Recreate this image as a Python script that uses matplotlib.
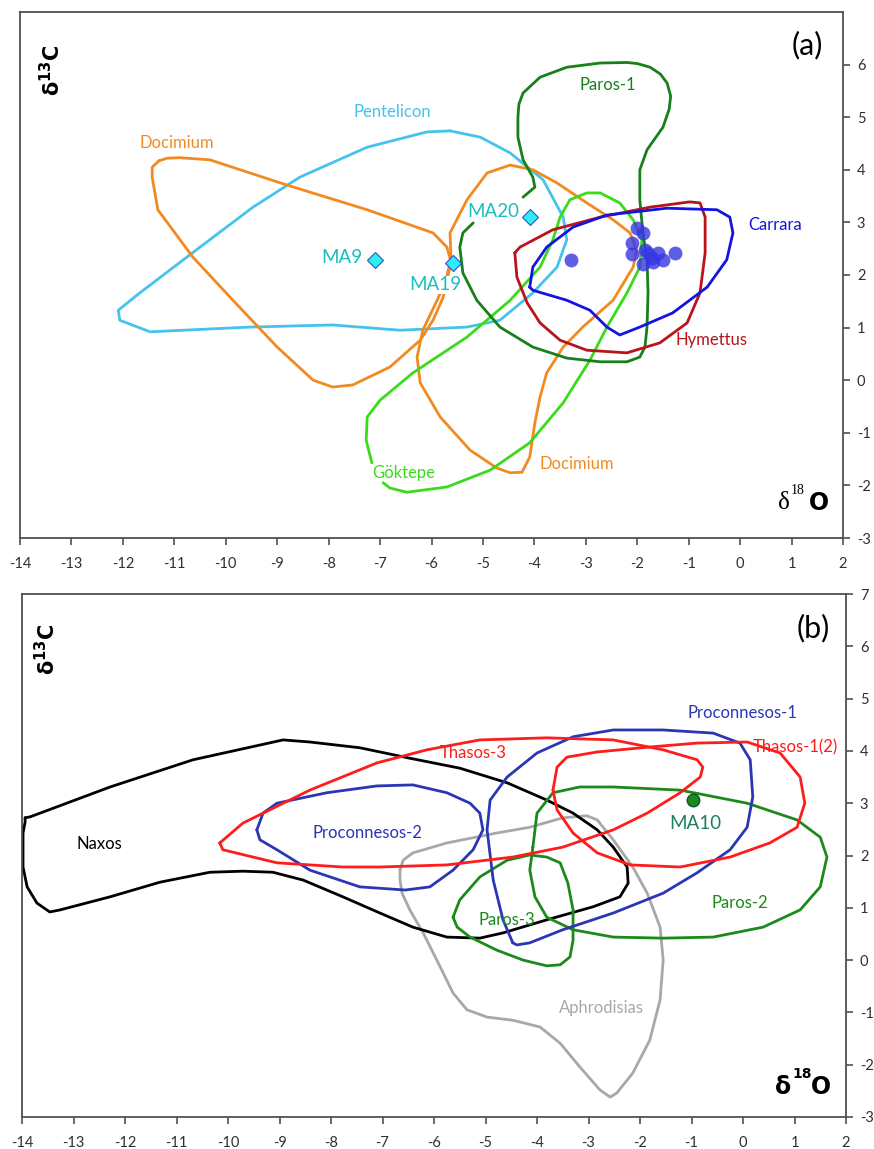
import matplotlib
matplotlib.use("Agg")
import matplotlib.pyplot as plt

plt.rcParams['font.family'] = ['Lato', 'DejaVu Sans']

# ---------------- panel (a) ----------------
pentelicon_x = [-5.64, -5.05, -4.47, -3.83, -3.44, -3.37, -3.56, -4.03, -4.67, -5.31, -6.61, -7.92, -9.53,
                -11.47, -12.06, -12.09, -11.67, -10.50, -9.47, -8.56, -7.25, -6.09]
pentelicon_y = [4.74, 4.62, 4.32, 3.81, 3.10, 2.67, 2.15, 1.66, 1.14, 1.01, 0.95, 1.05, 1.01,
                0.92, 1.14, 1.33, 1.66, 2.53, 3.29, 3.86, 4.43, 4.72]

docimium1_x = [-11.30, -11.14, -10.90, -10.31, -8.81, -7.25, -5.97, -5.70, -5.62, -5.70, -5.78, -5.97, -6.22,
               -6.81, -7.53, -7.92, -8.30, -9.00, -9.86, -10.64, -11.32, -11.43, -11.43]
docimium1_y = [4.17, 4.22, 4.23, 4.19, 3.71, 3.24, 2.80, 2.53, 2.25, 1.90, 1.56, 1.14, 0.76,
               0.25, -0.09, -0.13, 0.00, 0.63, 1.52, 2.34, 3.24, 3.86, 4.05]

docimium2_x = [-5.62, -5.64, -5.31, -4.92, -4.47, -4.03, -3.56, -2.98, -2.47, -2.14, -2.01, -2.08,
               -2.47, -3.06, -3.44, -3.76, -3.89, -3.99, -4.09, -4.24, -4.47, -4.73, -5.25, -5.83,
               -6.22, -6.28, -6.17, -5.89, -5.72]
docimium2_y = [2.32, 2.80, 3.43, 3.94, 4.09, 4.00, 3.75, 3.37, 3.05, 2.80, 2.48, 2.15,
               1.52, 1.01, 0.63, 0.14, -0.32, -0.81, -1.46, -1.75, -1.76, -1.67, -1.33, -0.70,
               -0.05, 0.44, 0.95, 1.52, 1.90]

paros1_x = [-5.19, -5.39, -5.45, -5.39, -5.12, -4.67, -4.03, -3.37, -2.72, -2.20, -1.95, -1.85,
            -1.81, -1.79, -1.81, -1.89, -1.95, -1.95, -1.81, -1.50, -1.38, -1.35, -1.42, -1.55,
            -1.75, -2.00, -2.20, -2.72, -3.37, -3.89, -4.22, -4.30, -4.32, -4.32, -4.22, -4.03,
            -3.99, -4.22]
paros1_y = [2.99, 2.80, 2.53, 2.04, 1.52, 1.01, 0.63, 0.42, 0.35, 0.35, 0.44, 0.63,
            1.01, 1.66, 2.29, 2.80, 3.43, 4.00, 4.38, 4.81, 5.15, 5.40, 5.65, 5.82,
            5.95, 6.02, 6.04, 6.03, 5.95, 5.76, 5.46, 5.25, 5.00, 4.62, 4.19, 3.86,
            3.67, 3.48]

carrara_x = [-4.09, -4.03, -3.76, -3.25, -2.59, -1.42, -0.45, -0.20, -0.14, -0.26, -0.64, -1.31,
             -1.95, -2.34, -2.59, -2.92, -3.37, -4.03]
carrara_y = [1.77, 2.15, 2.53, 2.91, 3.14, 3.27, 3.24, 3.10, 2.80, 2.29, 1.77, 1.28,
             1.01, 0.86, 1.01, 1.33, 1.52, 1.71]

hymettus_x = [-4.38, -4.28, -3.64, -2.72, -1.75, -0.98, -0.78, -0.68, -0.68, -0.78, -1.03, -1.56,
              -2.20, -2.98, -3.50, -3.89, -4.14, -4.34]
hymettus_y = [2.42, 2.53, 2.86, 3.10, 3.29, 3.39, 3.37, 3.10, 2.42, 1.66, 1.09, 0.71,
              0.52, 0.57, 0.76, 1.09, 1.47, 1.96]

goktepe_x = [-7.16, -7.27, -7.25, -7.00, -6.36, -5.31, -4.47, -3.89, -3.64, -3.50, -3.31, -2.98,
             -2.72, -2.34, -2.08, -1.91, -1.95, -2.20, -2.59, -2.92, -3.44, -4.09, -4.86, -5.70,
             -6.48, -6.81, -6.94]
goktepe_y = [-1.57, -1.14, -0.70, -0.38, 0.14, 0.82, 1.52, 2.15, 2.67, 3.10, 3.43, 3.56,
             3.56, 3.37, 3.05, 2.67, 2.15, 1.66, 1.01, 0.38, -0.43, -1.19, -1.71, -2.03,
             -2.13, -2.05, -1.95]

carrara_samples_x = [-3.29, -2.01, -1.89, -2.10, -2.10, -1.89, -1.79, -1.71, -1.60, -1.50, -1.27, -1.69, -1.85]
carrara_samples_y = [2.29, 2.89, 2.80, 2.61, 2.40, 2.21, 2.42, 2.32, 2.42, 2.29, 2.42, 2.25, 2.48]

ma_names = ['MA9', 'MA19', 'MA20']
ma_x = [-7.10, -5.58, -4.09]
ma_y = [2.29, 2.23, 3.10]

# ---------------- panel (b) ----------------
naxos_x = [-13.94, -13.84, -12.29, -10.68, -8.93, -8.41, -7.44, -6.47, -5.50, -4.58, -3.81, -3.30,
           -2.83, -2.52, -2.25, -2.23, -2.39, -2.91, -3.81, -4.66, -5.11, -5.75, -6.41, -7.05,
           -7.77, -8.54, -9.13, -9.71, -10.35, -11.32, -12.29, -13.26, -13.46, -13.71, -13.90,
           -13.98, -13.98, -13.94]
naxos_y = [2.72, 2.74, 3.31, 3.83, 4.21, 4.17, 4.06, 3.86, 3.67, 3.39, 3.06, 2.81,
           2.49, 2.16, 1.78, 1.47, 1.21, 1.02, 0.77, 0.52, 0.42, 0.44, 0.63, 0.90,
           1.21, 1.53, 1.68, 1.70, 1.68, 1.49, 1.21, 0.96, 0.92, 1.09, 1.40,
           1.78, 2.43, 2.64]

thasos3_x = [-10.16, -9.71, -8.41, -7.11, -6.14, -5.11, -3.81, -2.52, -1.55, -0.89, -0.78, -0.83,
             -1.22, -1.86, -2.52, -3.50, -4.47, -5.75, -7.05, -7.77, -9.05, -10.10]
thasos3_y = [2.24, 2.62, 3.25, 3.77, 4.02, 4.21, 4.25, 4.21, 4.02, 3.83, 3.69, 3.50,
             3.20, 2.81, 2.49, 2.16, 1.97, 1.82, 1.78, 1.78, 1.86, 2.11]

thasos1_x = [-3.69, -3.61, -3.42, -2.83, -1.86, -0.89, 0.08, 0.72, 1.11, 1.20, 1.05, 0.52,
             -0.25, -1.22, -2.19, -2.83, -3.30, -3.61]
thasos1_y = [3.25, 3.69, 3.88, 3.98, 4.07, 4.15, 4.17, 3.96, 3.50, 3.00, 2.54, 2.24,
             1.97, 1.78, 1.82, 2.05, 2.43, 2.87]

procon1_x = [-4.47, -4.66, -4.85, -4.97, -4.91, -4.58, -4.00, -3.30, -2.52, -1.55, -0.58, -0.06,
             0.14, 0.19, 0.08, -0.25, -0.89, -1.55, -2.52, -3.50, -4.14, -4.39]
procon1_y = [0.33, 0.77, 1.53, 2.49, 3.06, 3.50, 3.96, 4.27, 4.40, 4.40, 4.34, 4.15,
             3.83, 3.12, 2.54, 2.11, 1.67, 1.28, 0.90, 0.58, 0.33, 0.29]

procon2_x = [-9.44, -9.32, -9.05, -8.08, -7.11, -6.41, -5.75, -5.30, -5.11, -5.05, -5.24, -5.63,
             -6.08, -6.56, -7.44, -8.41, -9.05, -9.38]
procon2_y = [2.49, 2.81, 3.00, 3.20, 3.33, 3.35, 3.20, 3.00, 2.81, 2.49, 2.11, 1.72,
             1.40, 1.34, 1.40, 1.72, 2.11, 2.30]

paros2_x = [-4.08, -4.00, -3.69, -3.17, -2.52, -1.22, 0.08, 1.05, 1.50, 1.63, 1.50, 1.11,
            0.39, -0.58, -1.55, -2.52, -3.30, -3.81, -4.04, -4.14]
paros2_y = [2.16, 2.81, 3.20, 3.31, 3.31, 3.25, 3.00, 2.68, 2.35, 1.97, 1.40, 0.96,
            0.63, 0.44, 0.42, 0.44, 0.58, 0.82, 1.21, 1.72]

paros3_x = [-5.63, -5.50, -5.11, -4.58, -4.14, -3.81, -3.55, -3.40, -3.30, -3.30, -3.36, -3.55,
            -3.81, -4.27, -4.78, -5.30, -5.55]
paros3_y = [0.82, 1.15, 1.59, 1.91, 2.01, 1.97, 1.86, 1.47, 0.96, 0.38, 0.06, -0.09,
            -0.11, 0.00, 0.19, 0.44, 0.63]

aphro_x = [-6.66, -6.60, -6.41, -5.75, -4.78, -4.14, -3.50, -3.03, -2.83, -2.52, -2.14, -1.86,
           -1.61, -1.55, -1.61, -1.81, -2.14, -2.45, -2.58, -2.78, -3.17, -3.55, -3.94, -4.47,
           -4.97, -5.36, -5.63, -5.88, -6.21, -6.47, -6.62, -6.66]
aphro_y = [1.72, 1.91, 2.05, 2.24, 2.43, 2.54, 2.72, 2.76, 2.68, 2.30, 1.78, 1.28,
           0.63, 0.00, -0.76, -1.53, -2.16, -2.54, -2.62, -2.48, -2.04, -1.59, -1.28, -1.15,
           -1.09, -0.95, -0.63, -0.13, 0.52, 0.96, 1.28, 1.53]

ma10_x = [-0.97]
ma10_y = [3.06]

x_ticks = list(range(-14, 3))


def closed(xs, ys):
    return xs + xs[:1], ys + ys[:1]


def contour(ax, xs, ys, color, close=True, lw=2.0):
    if close:
        xs, ys = closed(xs, ys)
    ax.plot(xs, ys, color=color, lw=lw, solid_joinstyle='round', solid_capstyle='round')


def style_axes(ax, y_ticks):
    ax.set_xlim(-14, 2)
    ax.set_ylim(-3, 7)
    for s in ax.spines.values():
        s.set_color('#505050')
        s.set_linewidth(1.3)
    ax.yaxis.tick_right()
    ax.set_xticks(x_ticks)
    ax.set_xticklabels([str(v) for v in x_ticks])
    ax.set_yticks(y_ticks)
    ax.set_yticklabels([str(v) for v in y_ticks])
    ax.tick_params(axis='both', direction='out', length=5, width=1.2, color='#505050',
                   labelsize=10.5, labelcolor='#303030')
    ax.tick_params(axis='x', pad=9)
    ax.tick_params(axis='y', pad=5)


def d13c_label(ax, x, y):
    ax.text(x, y, r'$\mathbf{\delta^{13}C}$', transform=ax.transAxes, rotation=90,
            fontsize=15, ha='center', va='center')


fig = plt.figure(figsize=(8.74, 11.49), dpi=100)

# ---- (a)
ax = fig.add_axes([20 / 874, 1 - 538 / 1149, 823 / 874, 526 / 1149])
style_axes(ax, list(range(-3, 7)))

contour(ax, pentelicon_x, pentelicon_y, '#45C3EE')
contour(ax, docimium1_x, docimium1_y, '#F28A22')
contour(ax, docimium2_x, docimium2_y, '#F28A22')
contour(ax, goktepe_x, goktepe_y, '#3ADB1A', close=False)
contour(ax, paros1_x, paros1_y, '#17801A', close=False)
contour(ax, hymettus_x, hymettus_y, '#B8141A')
contour(ax, carrara_x, carrara_y, '#1414E0')

ax.plot(carrara_samples_x, carrara_samples_y, 'o', ms=10, color='#3636E2', alpha=0.8, mec='none')
ax.plot(ma_x, ma_y, 'D', ms=8, mfc='#30ECF6', mec='#3050C8', mew=0.8, ls='none', zorder=5)

lab_a = dict(fontsize=12)
ax.text(-6.77, 5.10, 'Pentelicon', color='#45C3EE', ha='center', va='center', **lab_a)
ax.text(-10.95, 4.50, 'Docimium', color='#F28A22', ha='center', va='center', **lab_a)
ax.text(-2.57, 5.61, 'Paros-1', color='#17801A', ha='center', va='center', **lab_a)
ax.text(0.68, 2.95, 'Carrara', color='#1414E0', ha='center', va='center', **lab_a)
ax.text(-0.55, 0.76, 'Hymettus', color='#B8141A', ha='center', va='center', **lab_a)
ax.text(-3.17, -1.59, 'Docimium', color='#F28A22', ha='center', va='center', **lab_a)
ax.text(-6.54, -1.77, 'Göktepe', color='#3ADB1A', ha='center', va='center', **lab_a)

ma_box = dict(facecolor='white', edgecolor='none', pad=0.5)
ax.text(ma_x[0] - 0.25, ma_y[0] + 0.05, ma_names[0], color='#1CBDBD', fontsize=13.5,
        ha='right', va='center', bbox=ma_box)
ax.text(ma_x[1] - 0.35, ma_y[1] - 0.42, ma_names[1], color='#1CBDBD', fontsize=13.5,
        ha='center', va='center', bbox=ma_box, zorder=4)
ax.text(ma_x[2] - 0.7, ma_y[2] + 0.1, ma_names[2], color='#1CBDBD', fontsize=13.5,
        ha='center', va='center', bbox=ma_box, zorder=4)

ax.text(0.957, 0.937, '(a)', transform=ax.transAxes, fontsize=22, ha='center', va='center')
d13c_label(ax, 0.039, 0.89)
ax.text(0.935, 0.066, 'δ', transform=ax.transAxes, fontsize=18, family='Liberation Serif',
        ha='right', va='center')
ax.text(0.937, 0.09, '18', transform=ax.transAxes, fontsize=10, family='Liberation Serif',
        ha='left', va='center')
ax.text(0.958, 0.066, 'O', transform=ax.transAxes, fontsize=17, fontweight='bold',
        family='DejaVu Sans', ha='left', va='center')

# ---- (b)
ax = fig.add_axes([22 / 874, 1 - 1117 / 1149, 824 / 874, 523 / 1149])
style_axes(ax, list(range(-3, 8)))

contour(ax, aphro_x, aphro_y, '#A8A8A8')
contour(ax, naxos_x, naxos_y, '#000000')
contour(ax, paros3_x, paros3_y, '#1B8A1B')
contour(ax, paros2_x, paros2_y, '#1B8A1B')
contour(ax, procon2_x, procon2_y, '#2A36B4')
contour(ax, procon1_x, procon1_y, '#2A36B4')
contour(ax, thasos3_x, thasos3_y, '#FF1C1C')
contour(ax, thasos1_x, thasos1_y, '#FF1C1C')

ax.plot(ma10_x, ma10_y, 'o', ms=9, mfc='#1B8A1B', mec='#10503A', mew=1, zorder=5)

ax.text(-12.49, 2.22, 'Naxos', color='black', ha='center', va='center', **lab_a)
ax.text(-7.30, 2.43, 'Proconnesos-2', color='#2A36B4', ha='center', va='center', **lab_a)
ax.text(-5.24, 3.96, 'Thasos-3', color='#FF1C1C', ha='center', va='center', **lab_a)
ax.text(-0.02, 4.72, 'Proconnesos-1', color='#2A36B4', ha='center', va='center', **lab_a)
ax.text(1.01, 4.07, 'Thasos-1(2)', color='#FF1C1C', ha='center', va='center', **lab_a)
ax.text(-0.06, 1.09, 'Paros-2', color='#1B8A1B', ha='center', va='center', **lab_a)
ax.text(-4.58, 0.77, 'Paros-3', color='#1B8A1B', ha='center', va='center', **lab_a)
ax.text(-2.74, -0.92, 'Aphrodisias', color='#A8A8A8', ha='center', va='center', **lab_a)
ax.text(-0.93, 2.62, 'MA10', color='#1E7E5E', fontsize=13.5, ha='center', va='center')

ax.text(0.96, 0.935, '(b)', transform=ax.transAxes, fontsize=22, ha='center', va='center')
d13c_label(ax, 0.03, 0.895)
ax.text(0.933, 0.058, 'δ', transform=ax.transAxes, fontsize=17, fontweight='bold',
        family='DejaVu Sans', ha='right', va='center')
ax.text(0.935, 0.082, '18', transform=ax.transAxes, fontsize=10, fontweight='bold',
        family='DejaVu Sans', ha='left', va='center')
ax.text(0.957, 0.058, 'O', transform=ax.transAxes, fontsize=17, fontweight='bold',
        family='DejaVu Sans', ha='left', va='center')

fig.savefig('out.png', dpi=100)
